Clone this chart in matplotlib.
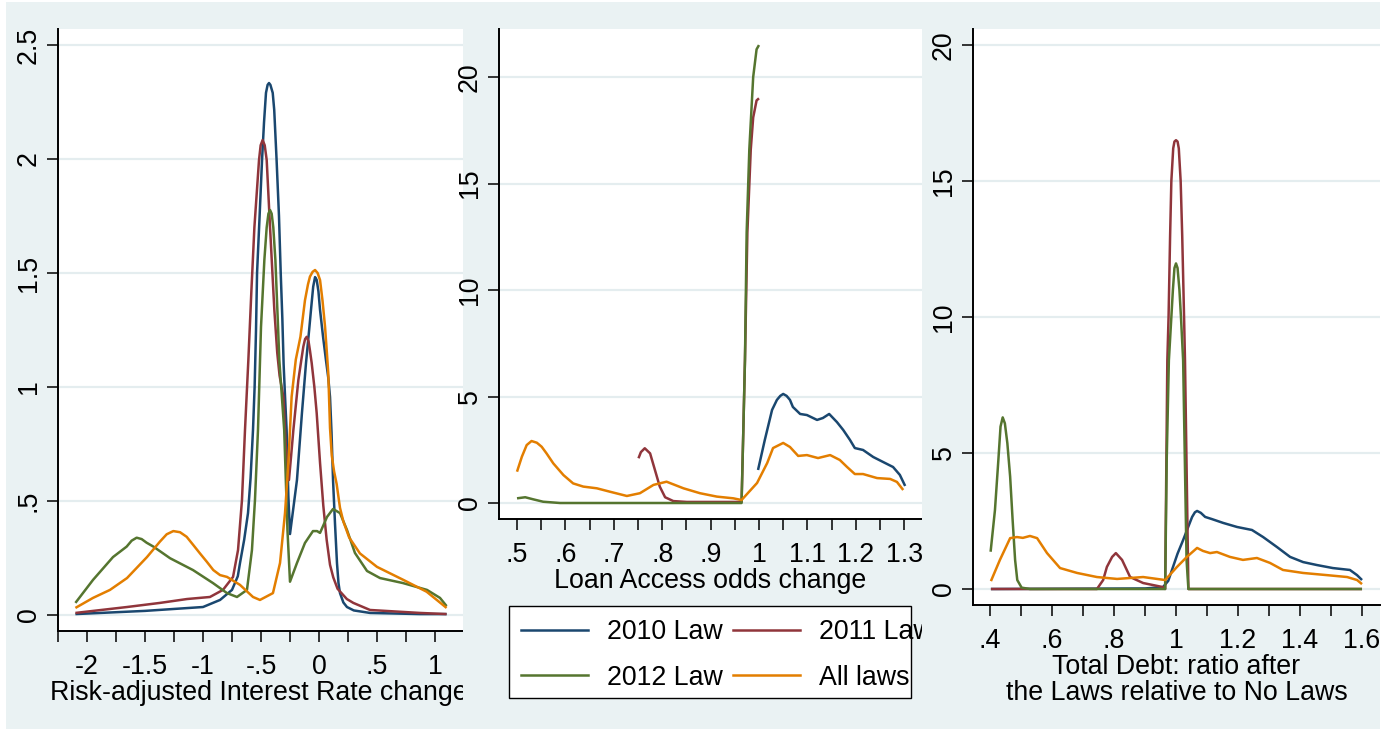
import matplotlib
matplotlib.use("Agg")
import matplotlib.pyplot as plt
from matplotlib.patches import Rectangle
from matplotlib.lines import Line2D

# ---------------- data: kernel density estimates ----------------
# Panel 1: Risk-adjusted interest rate change
rate_2010_x = [-2.10, -1.50, -1.00, -0.853, -0.75, -0.70, -0.681, -0.645, -0.612, -0.59,
               -0.569, -0.555, -0.543, -0.534, -0.512, -0.491, -0.474, -0.457, -0.443, -0.431,
               -0.419, -0.399, -0.386, -0.366, -0.345, -0.330, -0.316, -0.305, -0.292, -0.279,
               -0.264, -0.25, -0.19, -0.147, -0.112, -0.085, -0.069, -0.05, -0.034, -0.02,
               -0.005, 0.009, 0.035, 0.06, 0.08, 0.095, 0.108, 0.121, 0.138, 0.155,
               0.168, 0.181, 0.21, 0.241, 0.30, 0.44, 0.87, 1.10]
rate_2010_y = [0.004, 0.018, 0.035, 0.066, 0.11, 0.17, 0.228, 0.33, 0.447, 0.60,
               0.811, 1.00, 1.25, 1.50, 1.75, 1.996, 2.16, 2.29, 2.325, 2.333,
               2.325, 2.29, 2.215, 2.00, 1.75, 1.50, 1.30, 1.10, 0.95, 0.81,
               0.52, 0.355, 0.592, 0.886, 1.105, 1.25, 1.338, 1.44, 1.482, 1.47,
               1.42, 1.338, 1.22, 1.118, 1.04, 0.956, 0.80, 0.592, 0.40, 0.228,
               0.14, 0.096, 0.055, 0.035, 0.02, 0.009, 0.004, 0.004]

rate_2011_x = [-2.10, -1.655, -1.371, -1.138, -0.94, -0.828, -0.741, -0.698, -0.664, -0.638,
               -0.609, -0.583, -0.557, -0.517, -0.503, -0.486, -0.468, -0.451, -0.422, -0.385,
               -0.36, -0.34, -0.307, -0.279, -0.259, -0.24, -0.221, -0.178, -0.149, -0.135,
               -0.12, -0.106, -0.09, -0.078, -0.063, -0.04, -0.02, 0.009, 0.037, 0.066,
               0.095, 0.123, 0.16, 0.24, 0.296, 0.44, 0.871, 1.10]
rate_2011_y = [0.009, 0.035, 0.053, 0.07, 0.079, 0.11, 0.167, 0.285, 0.504, 0.811,
               1.118, 1.42, 1.70, 1.996, 2.06, 2.083, 2.06, 1.996, 1.70, 1.338,
               1.15, 1.05, 0.957, 0.667, 0.592, 0.70, 0.811, 1.03, 1.13, 1.177,
               1.21, 1.22, 1.20, 1.16, 1.105, 1.00, 0.886, 0.667, 0.48, 0.33,
               0.22, 0.165, 0.115, 0.07, 0.053, 0.022, 0.009, 0.004]

rate_2012_x = [-2.10, -1.948, -1.776, -1.658, -1.615, -1.572, -1.529, -1.486, -1.428, -1.284,
               -1.086, -0.914, -0.793, -0.707, -0.621, -0.578, -0.552, -0.526, -0.50, -0.471,
               -0.451, -0.436, -0.422, -0.408, -0.394, -0.376, -0.353, -0.342, -0.30, -0.272,
               -0.25, -0.19, -0.121, -0.052, -0.017, 0.009, 0.069, 0.121, 0.181, 0.241,
               0.31, 0.414, 0.526, 0.724, 0.931, 1.043, 1.10]
rate_2012_y = [0.053, 0.154, 0.254, 0.30, 0.326, 0.339, 0.333, 0.317, 0.30, 0.249,
               0.197, 0.14, 0.096, 0.079, 0.11, 0.285, 0.504, 0.811, 1.263, 1.557,
               1.70, 1.76, 1.776, 1.76, 1.70, 1.557, 1.263, 1.118, 0.811, 0.373,
               0.146, 0.228, 0.316, 0.368, 0.368, 0.36, 0.43, 0.465, 0.447, 0.373,
               0.272, 0.193, 0.162, 0.14, 0.11, 0.075, 0.039]

rate_all_x = [-2.10, -1.948, -1.802, -1.655, -1.483, -1.371, -1.313, -1.256, -1.198, -1.141,
              -1.084, -1.026, -0.968, -0.911, -0.853, -0.793, -0.681, -0.569, -0.509, -0.397,
              -0.336, -0.293, -0.264, -0.236, -0.20, -0.16, -0.121, -0.095, -0.078, -0.055,
              -0.034, -0.012, 0.009, 0.03, 0.052, 0.068, 0.080, 0.095, 0.11, 0.13,
              0.152, 0.181, 0.21, 0.26, 0.353, 0.5, 0.727, 0.928, 1.10]
rate_all_y = [0.031, 0.075, 0.11, 0.162, 0.254, 0.322, 0.354, 0.368, 0.363, 0.343,
              0.307, 0.27, 0.234, 0.197, 0.175, 0.167, 0.132, 0.079, 0.066, 0.096,
              0.228, 0.447, 0.667, 0.957, 1.12, 1.22, 1.38, 1.45, 1.484, 1.505,
              1.513, 1.50, 1.469, 1.38, 1.265, 1.15, 1.06, 0.82, 0.70, 0.63,
              0.575, 0.47, 0.41, 0.34, 0.27, 0.211, 0.154, 0.102, 0.031]

# Panel 2: Loan access odds change
odds_2010_x = [0.998, 1.012, 1.027, 1.037, 1.044, 1.05, 1.057, 1.064, 1.07, 1.085,
               1.099, 1.12, 1.132, 1.145, 1.161, 1.174, 1.188, 1.198, 1.215, 1.236,
               1.256, 1.277, 1.291, 1.302]
odds_2010_y = [1.55, 2.96, 4.37, 4.84, 5.03, 5.12, 5.03, 4.84, 4.51, 4.18,
               4.13, 3.90, 3.99, 4.18, 3.80, 3.43, 2.96, 2.58, 2.49, 2.16,
               1.93, 1.69, 1.32, 0.80]

odds_2011_x = [0.751, 0.756, 0.764, 0.775, 0.785, 0.795, 0.806, 0.823, 0.851, 0.964,
               0.9675, 0.971, 0.976, 0.983, 0.988, 0.995, 1.0]
odds_2011_y = [2.10, 2.39, 2.57, 2.33, 1.55, 0.77, 0.27, 0.09, 0.05, 0.05,
               3.3, 6.7, 12.7, 16.6, 18.1, 18.9, 19.0]

odds_2012_x = [0.5, 0.517, 0.534, 0.554, 0.589, 0.964, 0.9675, 0.971, 0.9745, 0.980,
               0.988, 0.995, 1.0]
odds_2012_y = [0.22, 0.27, 0.17, 0.06, 0.0, 0.0, 3.3, 6.7, 12.7, 16.6,
               20.0, 21.3, 21.5]

odds_all_x = [0.5, 0.51, 0.52, 0.530, 0.541, 0.551, 0.561, 0.575, 0.596, 0.616,
              0.637, 0.665, 0.692, 0.727, 0.754, 0.782, 0.809, 0.844, 0.878, 0.913,
              0.947, 0.964, 0.996, 1.017, 1.029, 1.05, 1.064, 1.081, 1.099, 1.122,
              1.147, 1.167, 1.182, 1.198, 1.215, 1.244, 1.271, 1.285, 1.298]
odds_all_y = [1.47, 2.17, 2.72, 2.91, 2.83, 2.64, 2.33, 1.86, 1.31, 0.92,
              0.77, 0.69, 0.53, 0.33, 0.46, 0.85, 1.0, 0.69, 0.46, 0.30,
              0.22, 0.14, 0.94, 1.88, 2.58, 2.82, 2.63, 2.21, 2.25, 2.11,
              2.25, 2.02, 1.69, 1.36, 1.36, 1.17, 1.13, 0.99, 0.61]

# Panel 3: Total debt ratio after the laws relative to no laws
debt_2010_x = [0.403, 0.90, 0.958, 0.975, 0.990, 1.005, 1.023, 1.04, 1.052, 1.061,
               1.068, 1.08, 1.094, 1.116, 1.152, 1.197, 1.245, 1.281, 1.326, 1.368,
               1.41, 1.455, 1.506, 1.561, 1.584, 1.60]
debt_2010_y = [0.0, 0.02, 0.07, 0.3, 0.8, 1.3, 1.8, 2.3, 2.65, 2.82,
               2.87, 2.80, 2.65, 2.57, 2.43, 2.28, 2.17, 1.91, 1.54, 1.18,
               0.99, 0.88, 0.77, 0.70, 0.51, 0.33]

debt_2011_x = [0.403, 0.745, 0.765, 0.777, 0.794, 0.806, 0.826, 0.852, 0.894, 0.958,
               0.965, 0.972, 0.976, 0.981, 0.985, 0.991, 0.995, 1.0, 1.005, 1.009,
               1.015, 1.020, 1.026, 1.029, 1.040, 1.60]
debt_2011_y = [0.0, 0.0, 0.33, 0.81, 1.18, 1.32, 1.07, 0.44, 0.22, 0.07,
               0.0, 8.4, 10.0, 13.0, 15.0, 16.2, 16.45, 16.5, 16.45, 16.2,
               15.0, 13.0, 10.0, 8.4, 0.0, 0.0]

debt_2012_x = [0.402, 0.416, 0.427, 0.434, 0.441, 0.448, 0.456, 0.465, 0.473, 0.481,
               0.488, 0.502, 0.529, 0.965, 0.970, 0.977, 0.985, 0.990, 0.995, 1.0,
               1.005, 1.011, 1.016, 1.023, 1.034, 1.040, 1.60]
debt_2012_y = [1.37, 2.9, 4.74, 5.97, 6.31, 6.09, 5.36, 4.13, 2.54, 1.07,
               0.33, 0.05, 0.0, 0.0, 4.74, 8.4, 10.0, 11.0, 11.8, 11.97,
               11.8, 11.0, 10.0, 8.4, 1.07, 0.0, 0.0]

debt_all_x = [0.403, 0.432, 0.465, 0.487, 0.506, 0.529, 0.552, 0.584, 0.626, 0.681,
              0.745, 0.81, 0.894, 0.965, 1.003, 1.035, 1.068, 1.087, 1.11, 1.132,
              1.174, 1.216, 1.261, 1.303, 1.345, 1.41, 1.487, 1.552, 1.584, 1.60]
debt_all_y = [0.29, 1.07, 1.87, 1.91, 1.88, 1.95, 1.87, 1.32, 0.77, 0.59,
              0.44, 0.37, 0.44, 0.33, 0.81, 1.18, 1.51, 1.40, 1.32, 1.36,
              1.18, 1.07, 1.14, 0.96, 0.70, 0.59, 0.51, 0.44, 0.33, 0.18]

series_labels = ["2010 Law", "2011 Law", "2012 Law", "All laws"]

# tick values and labels
rate_xticks = [-2, -1.5, -1, -0.5, 0, 0.5, 1]
rate_xticklabels = ["-2", "-1.5", "-1", "-.5", "0", ".5", "1"]
rate_xminor = [-2.25, -1.75, -1.25, -0.75, -0.25, 0.25, 0.75]
rate_yticks = [0, 0.5, 1, 1.5, 2, 2.5]
rate_yticklabels = ["0", ".5", "1", "1.5", "2", "2.5"]

odds_xticks = [0.5, 0.6, 0.7, 0.8, 0.9, 1.0, 1.1, 1.2, 1.3]
odds_xticklabels = [".5", ".6", ".7", ".8", ".9", "1", "1.1", "1.2", "1.3"]
odds_xminor = [0.55, 0.65, 0.75, 0.85, 0.95, 1.05, 1.15, 1.25]
odds_yticks = [0, 5, 10, 15, 20]
odds_yticklabels = ["0", "5", "10", "15", "20"]

debt_xticks = [0.4, 0.6, 0.8, 1.0, 1.2, 1.4, 1.6]
debt_xticklabels = [".4", ".6", ".8", "1", "1.2", "1.4", "1.6"]
debt_xminor = [0.5, 0.7, 0.9, 1.1, 1.3, 1.5]
debt_yticks = [0, 5, 10, 15, 20]
debt_yticklabels = ["0", "5", "10", "15", "20"]

# ---------------- style ----------------
W, H = 1397, 730
plt.rcParams['font.family'] = ['Liberation Sans', 'DejaVu Sans']
FS = 19.3
BG = '#eaf2f3'
GRID = '#e4edef'
COLORS = ['#1a476f', '#90353b', '#55752f', '#e37e00']
LW = 1.8

fig = plt.figure(figsize=(W / 100, H / 100), dpi=100)
fig.patch.set_facecolor('white')


def px_rect(l, t, r, b):
    return [l / W, 1 - b / H, (r - l) / W, (b - t) / H]


def add_background(l, t, r, b, z):
    x, y, w, h = px_rect(l, t, r, b)
    fig.add_artist(Rectangle((x, y), w, h, transform=fig.transFigure,
                             facecolor=BG, edgecolor='none', zorder=z))


def style_axes(ax, xlim, ylim, xt, xtl, xmin, yt, ytl):
    ax.set_facecolor('white')
    ax.set_xlim(xlim)
    ax.set_ylim(ylim)
    for s in ('top', 'right'):
        ax.spines[s].set_visible(False)
    for s in ('left', 'bottom'):
        ax.spines[s].set_linewidth(1.4)
        ax.spines[s].set_color('black')
    ax.set_xticks(xt)
    ax.set_xticklabels(xtl)
    ax.set_xticks(xmin, minor=True)
    ax.set_yticks(yt)
    ax.set_yticklabels(ytl, rotation=90, va='center')
    ax.tick_params(axis='both', which='both', length=7.6, width=1.1,
                   direction='out', color='black', labelsize=FS)
    ax.tick_params(axis='x', which='both', pad=8.6)
    ax.tick_params(axis='y', which='both', pad=4)
    ax.grid(axis='y', which='major', color=GRID, linewidth=1.6)
    ax.set_axisbelow(True)


def plot_panel(ax, xs, ys):
    for x, y, c, lab in zip(xs, ys, COLORS, series_labels):
        ax.plot(x, y, color=c, lw=LW, label=lab, solid_joinstyle='round',
                solid_capstyle='butt')


# Panel 1
add_background(6, 2, 463, 729, 0)
ax1 = fig.add_axes(px_rect(58, 29, 463, 631), zorder=1)
style_axes(ax1, (-2.25, 1.2414), (-0.0702, 2.570),
           rate_xticks, rate_xticklabels, rate_xminor, rate_yticks, rate_yticklabels)
plot_panel(ax1, [rate_2010_x, rate_2011_x, rate_2012_x, rate_all_x],
           [rate_2010_y, rate_2011_y, rate_2012_y, rate_all_y])
ax1.set_xlabel("Risk-adjusted Interest Rate change", fontsize=FS, ha='left', va='top')
ax1.xaxis.set_label_coords((50 - 58) / (463 - 58), (631 - 680) / (631 - 29))

# Panel 2
add_background(463, 2, 922, 729, 2)
ax2 = fig.add_axes(px_rect(499, 29, 922, 519), zorder=3)
style_axes(ax2, (0.4628, 1.3368), (-0.751, 22.254),
           odds_xticks, odds_xticklabels, odds_xminor, odds_yticks, odds_yticklabels)
plot_panel(ax2, [odds_2010_x, odds_2011_x, odds_2012_x, odds_all_x],
           [odds_2010_y, odds_2011_y, odds_2012_y, odds_all_y])
ax2.set_xlabel("Loan Access odds change", fontsize=FS, va='top')
ax2.xaxis.set_label_coords(0.5, (519 - 568) / (519 - 29))

# Legend under panel 2 (drawn at figure level so panel 3 overlaps it)
LZ = 3.5
lx, ly, lw_, lh = px_rect(509, 606, 911, 698)
fig.add_artist(Rectangle((lx, ly), lw_, lh, transform=fig.transFigure,
                         facecolor='white', edgecolor='black', linewidth=1.0, zorder=LZ))
legend_slots = [(521, 588, 607, 630, 639), (733, 800, 819, 630, 639),
                (521, 588, 607, 675, 685), (733, 800, 819, 675, 685)]
for (x0, x1, tx, yl, yb), c, lab in zip(legend_slots, COLORS, series_labels):
    fig.add_artist(Line2D([x0 / W, x1 / W], [1 - yl / H, 1 - yl / H],
                          transform=fig.transFigure, color=c, lw=LW, zorder=LZ + 0.01))
    fig.text(tx / W, 1 - yb / H, lab, fontsize=FS, ha='left', va='baseline', zorder=LZ + 0.02)

# Panel 3
add_background(922, 2, 1380, 729, 4)
ax3 = fig.add_axes(px_rect(973, 29, 1380, 605), zorder=5)
style_axes(ax3, (0.3452, 1.658), (-0.588, 20.588),
           debt_xticks, debt_xticklabels, debt_xminor, debt_yticks, debt_yticklabels)
plot_panel(ax3, [debt_2010_x, debt_2011_x, debt_2012_x, debt_all_x],
           [debt_2010_y, debt_2011_y, debt_2012_y, debt_all_y])
ax3.set_xlabel("Total Debt: ratio after\nthe Laws relative to No Laws", fontsize=FS,
               va='top', linespacing=1.0)
ax3.xaxis.set_label_coords(0.5, (605 - 654) / (605 - 29))

fig.savefig("out.png", dpi=100)
